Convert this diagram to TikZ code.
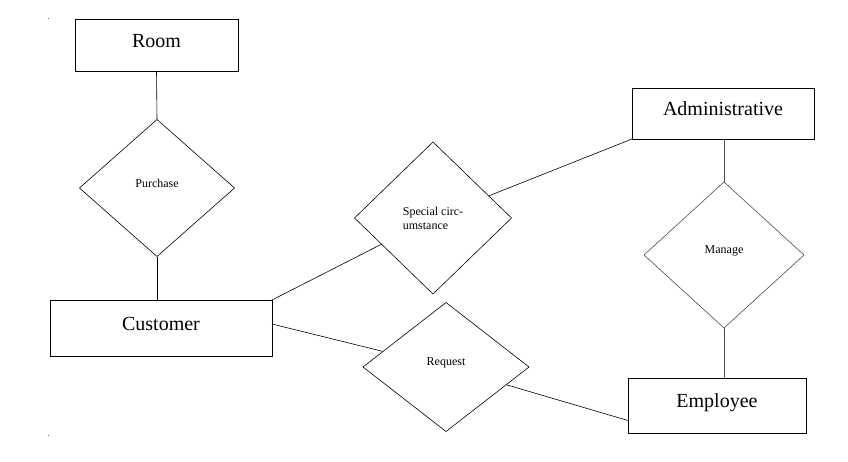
\documentclass[tikz,border=0pt]{standalone}
\usepackage{fontspec}
\setmainfont{Liberation Serif}
\usetikzlibrary{shapes.geometric}

\tikzset{
  entity/.style={rectangle, draw, line width=0.8pt, inner sep=0pt, outer sep=0pt,
    font=\fontsize{20}{24}\selectfont, text height=14pt, text depth=10pt},
  relation/.style={diamond, draw, line width=0.6pt, inner sep=0pt, outer sep=0pt,
    font=\fontsize{12}{14}\selectfont},
  link/.style={line width=0.6pt}
}

\begin{document}
\begin{tikzpicture}[x=1pt, y=-1pt]
        \useasboundingbox (0,0) rectangle (848,461);
        % entities
        \node[entity, minimum width=163pt, minimum height=52pt] (room) at (156.5,45) {Room};
        \node[entity, minimum width=222pt, minimum height=56pt] (customer) at (161,328) {Customer};
        \node[entity, minimum width=182pt, minimum height=51pt] (admin) at (723,113.5) {Administrative};
        \node[entity, minimum width=178pt, minimum height=55pt] (employee) at (717,405.5) {Employee};
        % relations
        \node[relation, minimum width=155pt, minimum height=137pt, text depth=10pt] (purchase) at (157,188) {Purchase};
        \node[relation, minimum width=157pt, minimum height=152pt, align=left] (special) at (433,218) {Special circ-\\umstance};
        \node[relation, minimum width=166pt, minimum height=129pt, text depth=10pt] (request) at (446,367) {Request};
        \node[relation, minimum width=160pt, minimum height=146pt, text depth=10pt, draw=black!70] (manage) at (724,255) {Manage};
        % connections
        \draw[link] (room.south) -- (purchase.north);
        \draw[link] (purchase.south) -- (purchase.south |- customer.north);
        \draw[link] (customer.north east) -- (special);
        \draw[link] (special) -- (admin.south west);
        \draw[link, draw=black!70] (manage.north |- admin.south) -- (manage.north);
        \draw[link, draw=black!70] (manage.south) -- (manage.south |- employee.north);
        \draw[link] ([yshift=4pt]customer.east) -- (request);
        \draw[link] (request) -- ([yshift=-15pt]employee.west);
        % corner marks
        \fill[black!60] (48,18) rectangle (49,19);
        \fill[black!60] (48,435) rectangle (49,436);
    \end{tikzpicture}
\end{document}
